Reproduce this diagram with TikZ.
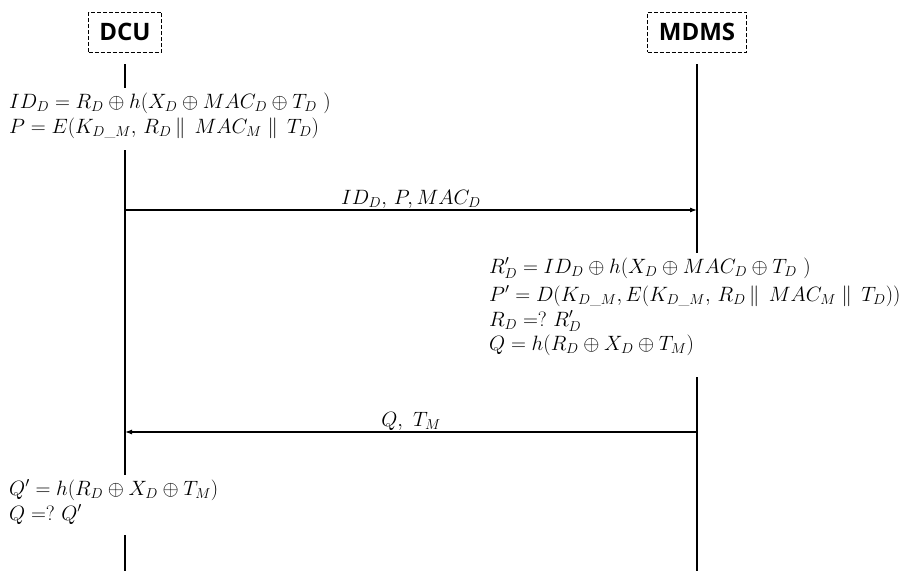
\documentclass[tikz,border=0pt]{standalone}
\usepackage{fontspec}
\usepackage{amsmath}
\newfontfamily\partyfont{Open Sans}
\usetikzlibrary{arrows.meta,positioning}
\tikzset{
  party/.style={draw, dash pattern=on 4pt off 2pt, line width=0.9pt, minimum height=40pt,
    font=\partyfont\bfseries\fontsize{24}{26}\selectfont},
  calc line/.style={anchor=base west, inner sep=0pt, text height=14pt, text depth=5pt,
    font=\fontsize{21}{24}\selectfont},
  msg label/.style={font=\fontsize{22}{24}\selectfont, inner sep=1pt},
  life/.style={line width=1.1pt},
  msg/.style={line width=1.1pt, -{Latex[length=7pt,width=5pt]}}
}
\begin{document}
\begin{tikzpicture}[x=1pt, y=-1pt]
  \useasboundingbox (0,0) rectangle (921,571);
  % parties
  \node[party, minimum width=73pt] (dcu) at (125,32) {DCU};
  \node[party, minimum width=99pt] (mdms) at (697,32) {MDMS};
  % DCU computations
  \node[calc line] (id) at (9,108) {$ID_D = R_D \oplus h(X_D \oplus MAC_D \oplus T_D\ )$};
  \node[calc line] (p) at (9,133) {$P = E(K_{D\_M},\, R_D\,\|\;\, MAC_M\;\|\;\, T_D)$};
  % MDMS computations
  \node[calc line] (rd) at (489,273) {$R'_D = ID_D \oplus h(X_D \oplus MAC_D \oplus T_D\ )$};
  \node[calc line] (pd) at (489,301) {$P' = D(K_{D\_M}, E(K_{D\_M},\, R_D\,\|\;\, MAC_M\;\|\;\, T_D))$};
  \node[calc line] (req) at (489,326) {$R_D =?\ R'_D$};
  \node[calc line] (q) at (489,350) {$Q = h(R_D \oplus X_D \oplus T_M)$};
  % DCU check
  \node[calc line] (qd) at (9,495) {$Q' = h(R_D \oplus X_D \oplus T_M)$};
  \node[calc line] (qeq) at (9,520) {$Q =?\ Q'$};
  % message heights
  \coordinate (y1) at (0,210);
  \coordinate (y2) at (0,432);
  \coordinate (yend) at (0,571);
  % lifelines
  \draw[life] ([yshift=-12pt]dcu.south) -- ([yshift=6pt]dcu |- id.north);
  \draw[life] ([yshift=-12pt]dcu |- p.south) -- ([yshift=6pt]dcu |- qd.north);
  \draw[life] ([yshift=-10pt]dcu |- qeq.south) -- (dcu |- yend);
  \draw[life] ([yshift=-12pt]mdms.south) -- ([yshift=6pt]mdms |- rd.north);
  \draw[life] ([yshift=-22pt]mdms |- q.south) -- (mdms |- yend);
  % messages
  \draw[msg] (dcu |- y1) -- node[msg label, above] {$ID_D,\, P, MAC_D$} (mdms |- y1);
  \draw[msg] (mdms |- y2) -- node[msg label, above] {$Q,\ T_M$} (dcu |- y2);
\end{tikzpicture}
\end{document}
